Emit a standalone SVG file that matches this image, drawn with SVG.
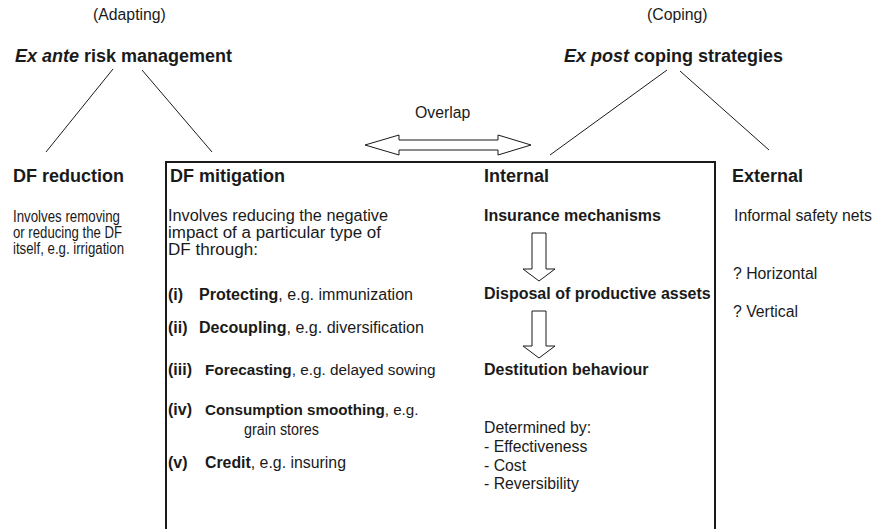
<svg xmlns="http://www.w3.org/2000/svg" width="875" height="529" viewBox="0 0 875 529">
<style>
text { font-family: "Liberation Sans", Arial, sans-serif; fill: #1a1a1a; }
.t { font-size: 15.8px; }
.m { font-size: 16px; }
.h { font-size: 18px; font-weight: bold; }
.b { font-weight: bold; }
.ln { stroke: #1a1a1a; stroke-width: 1; fill: none; }
.box { stroke: #1a1a1a; stroke-width: 2; fill: none; }
.arr { stroke: #1a1a1a; stroke-width: 1; fill: #ffffff; }
</style>
<rect width="875" height="529" fill="#ffffff"/>

<g id="connectors">
  <line class="ln" x1="113" y1="69" x2="46" y2="152"/>
  <line class="ln" x1="142" y1="70" x2="212" y2="152"/>
  <line class="ln" x1="667" y1="70" x2="550" y2="155"/>
  <line class="ln" x1="680" y1="71" x2="769" y2="150"/>
  <polygon class="arr" points="365,145 399,135 399,140 498,140 498,135 531,145 498,155 498,150 399,150 399,155"/>
  <polygon class="arr" points="532,233 546,233 546,269 555,269 539,281 523,269 532,269"/>
  <polygon class="arr" points="532,311 546,311 546,346 555,346 539,358 523,346 532,346"/>
</g>

<g id="box">
  <path class="box" d="M166,530 V162 H715 V530"/>
</g>

<g id="adapting">
  <text class="t" x="93" y="20">(Adapting)</text>
  <text class="h" x="15" y="62"><tspan font-style="italic">Ex ante</tspan> risk management</text>
</g>

<g id="coping">
  <text class="t" x="647" y="20">(Coping)</text>
  <text class="h" x="564" y="62"><tspan font-style="italic">Ex post</tspan> coping strategies</text>
</g>

<g id="overlap">
  <text class="t" x="415" y="118">Overlap</text>
</g>

<g id="df-reduction">
  <text class="h" x="13" y="182">DF reduction</text>
  <text class="t" x="13" y="222" textLength="107" lengthAdjust="spacingAndGlyphs">Involves removing</text>
  <text class="t" x="13" y="238" textLength="109" lengthAdjust="spacingAndGlyphs">or reducing the DF</text>
  <text class="t" x="13" y="254" textLength="111" lengthAdjust="spacingAndGlyphs">itself, e.g. irrigation</text>
</g>

<g id="df-mitigation">
  <text class="h" x="170" y="182">DF mitigation</text>
  <text class="m" x="168" y="221" textLength="220" lengthAdjust="spacingAndGlyphs">Involves reducing the negative</text>
  <text class="m" x="168" y="238" textLength="213" lengthAdjust="spacingAndGlyphs">impact of a particular type of</text>
  <text class="m" x="168" y="255" textLength="90" lengthAdjust="spacingAndGlyphs">DF through:</text>
  <text class="m b" x="168" y="300">(i)</text>
  <text class="m" x="199" y="300" textLength="214" lengthAdjust="spacingAndGlyphs"><tspan class="b">Protecting</tspan>, e.g. immunization</text>
  <text class="m b" x="168" y="333">(ii)</text>
  <text class="m" x="199" y="333" textLength="225" lengthAdjust="spacingAndGlyphs"><tspan class="b">Decoupling</tspan>, e.g. diversification</text>
  <text class="m b" x="168" y="375">(iii)</text>
  <text x="205" y="375" font-size="15.3"><tspan class="b">Forecasting</tspan>, e.g. delayed sowing</text>
  <text class="m b" x="168" y="415">(iv)</text>
  <text x="205" y="415" font-size="15.2"><tspan class="b">Consumption smoothing</tspan>, e.g.</text>
  <text class="m" x="244" y="435" textLength="75" lengthAdjust="spacingAndGlyphs">grain stores</text>
  <text class="m b" x="168" y="468">(v)</text>
  <text class="m" x="205" y="468" textLength="141" lengthAdjust="spacingAndGlyphs"><tspan class="b">Credit</tspan>, e.g. insuring</text>
</g>

<g id="internal">
  <text class="h" x="484" y="182">Internal</text>
  <text class="m b" x="484" y="221">Insurance mechanisms</text>
  <text class="m b" x="484" y="299">Disposal of productive assets</text>
  <text class="m b" x="484" y="375">Destitution behaviour</text>
  <text class="t" x="484" y="433">Determined by:</text>
  <text class="t" x="484" y="452">- Effectiveness</text>
  <text class="t" x="484" y="471">- Cost</text>
  <text class="t" x="484" y="489">- Reversibility</text>
</g>

<g id="external">
  <text class="h" x="732" y="182">External</text>
  <text class="t" x="734" y="221">Informal safety nets</text>
  <text class="t" x="733" y="279">? Horizontal</text>
  <text class="t" x="733" y="317">? Vertical</text>
</g>
</svg>
